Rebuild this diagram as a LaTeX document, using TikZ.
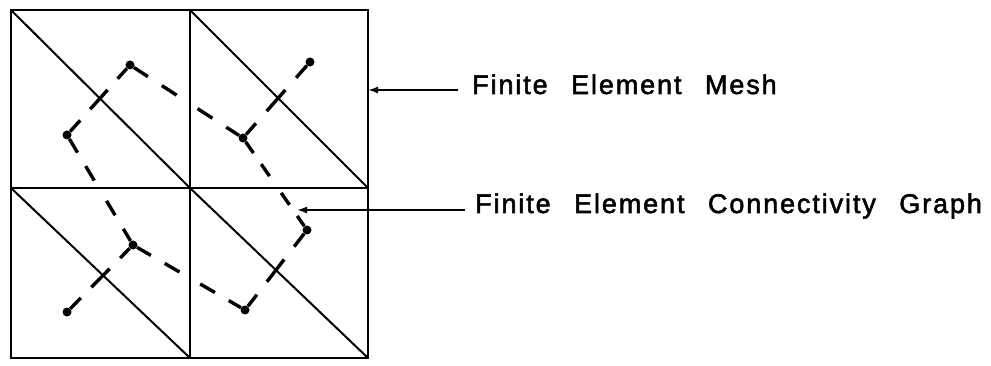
\documentclass[tikz,border=0pt]{standalone}
\usepackage{fontspec}
\setmainfont{Liberation Sans}
\newfontfamily\labelfont[LetterSpace=7,WordSpace=2.5,FakeBold=2]{Liberation Sans}
\usetikzlibrary{arrows.meta}

\begin{document}
\begin{tikzpicture}[x=1pt,y=-1pt,
  meshline/.style={line width=2.5pt},
  diagline/.style={line width=2pt},
  vtx/.style={circle,fill=black,inner sep=0pt,minimum size=9pt},
  gedge/.style={line width=3.4pt},
  % edge crossing a diagonal: a dash sits on the crossing
  xdiag/.style 2 args={gedge,dash pattern=on #1 off #1 on #2 off #1 on #1 off 300pt},
  % edge crossing a grid line: a gap sits on the crossing
  xgrid/.style n args={3}{gedge,dash pattern=on #1 off #1 on #2 off #3 on #2 off #1 on #1 off 300pt},
  leader/.style={line width=1.8pt,-{Latex[length=10pt,width=7pt]}},
  lbl/.style={anchor=base west,inner sep=0pt,font=\labelfont\fontsize{27}{32}\selectfont}
]
\useasboundingbox (0,0) rectangle (991,366);

% mesh corners
\coordinate (p00) at (11,10);
\coordinate (p10) at (190,10);
\coordinate (p20) at (368,10);
\coordinate (p01) at (11,188);
\coordinate (p11) at (190,188);
\coordinate (p21) at (368,188);
\coordinate (p02) at (11,358);
\coordinate (p12) at (190,358);
\coordinate (p22) at (368,358);

% square cells
\draw[meshline] (p00) rectangle (p22);
\draw[meshline] (p10) -- (p12);
\draw[meshline] (p01) -- (p21);

% triangle diagonals
\draw[diagline] (p00) -- (p11);
\draw[diagline] (p10) -- (p21);
\draw[diagline] (p01) -- (p12);
\draw[diagline] (p11) -- (p22);

% one vertex per triangle
\node[vtx] (A) at (130,65) {};
\node[vtx] (B) at (67,135) {};
\node[vtx] (C) at (310,62) {};
\node[vtx] (D) at (243,138) {};
\node[vtx] (E) at (133,245) {};
\node[vtx] (F) at (67,312) {};
\node[vtx] (G) at (307,230) {};
\node[vtx] (H) at (245,310) {};

% connectivity edges
\draw[xdiag={15pt}{26pt}] (B) -- (A);
\draw[xdiag={16.3pt}{28.2pt}] (C) -- (D);
\draw[xdiag={15pt}{26pt}] (F) -- (E);
\draw[xdiag={16.3pt}{28.2pt}] (G) -- (H);
\draw[xgrid={16.6pt}{17.6pt}{24.9pt}] (A) -- (D);
\draw[xgrid={15.8pt}{16.8pt}{23.7pt}] (B) -- (E);
\draw[xgrid={13.6pt}{14.5pt}{20.5pt}] (D) -- (G);
\draw[xgrid={16pt}{17pt}{24pt}] (E) -- (H);

% labels and leaders
\node[lbl] (mesh) at (472,94) {Finite Element Mesh};
\node[lbl] (graph) at (475,213) {Finite Element Connectivity Graph};
\coordinate (meshfrom) at (458,90);
\coordinate (meshtip) at (368,90);
\coordinate (graphfrom) at (465,210);
\coordinate (graphtip) at (297,210);
\draw[leader] (meshfrom) -- (meshtip);
\draw[leader] (graphfrom) -- (graphtip);
\end{tikzpicture}
\end{document}
